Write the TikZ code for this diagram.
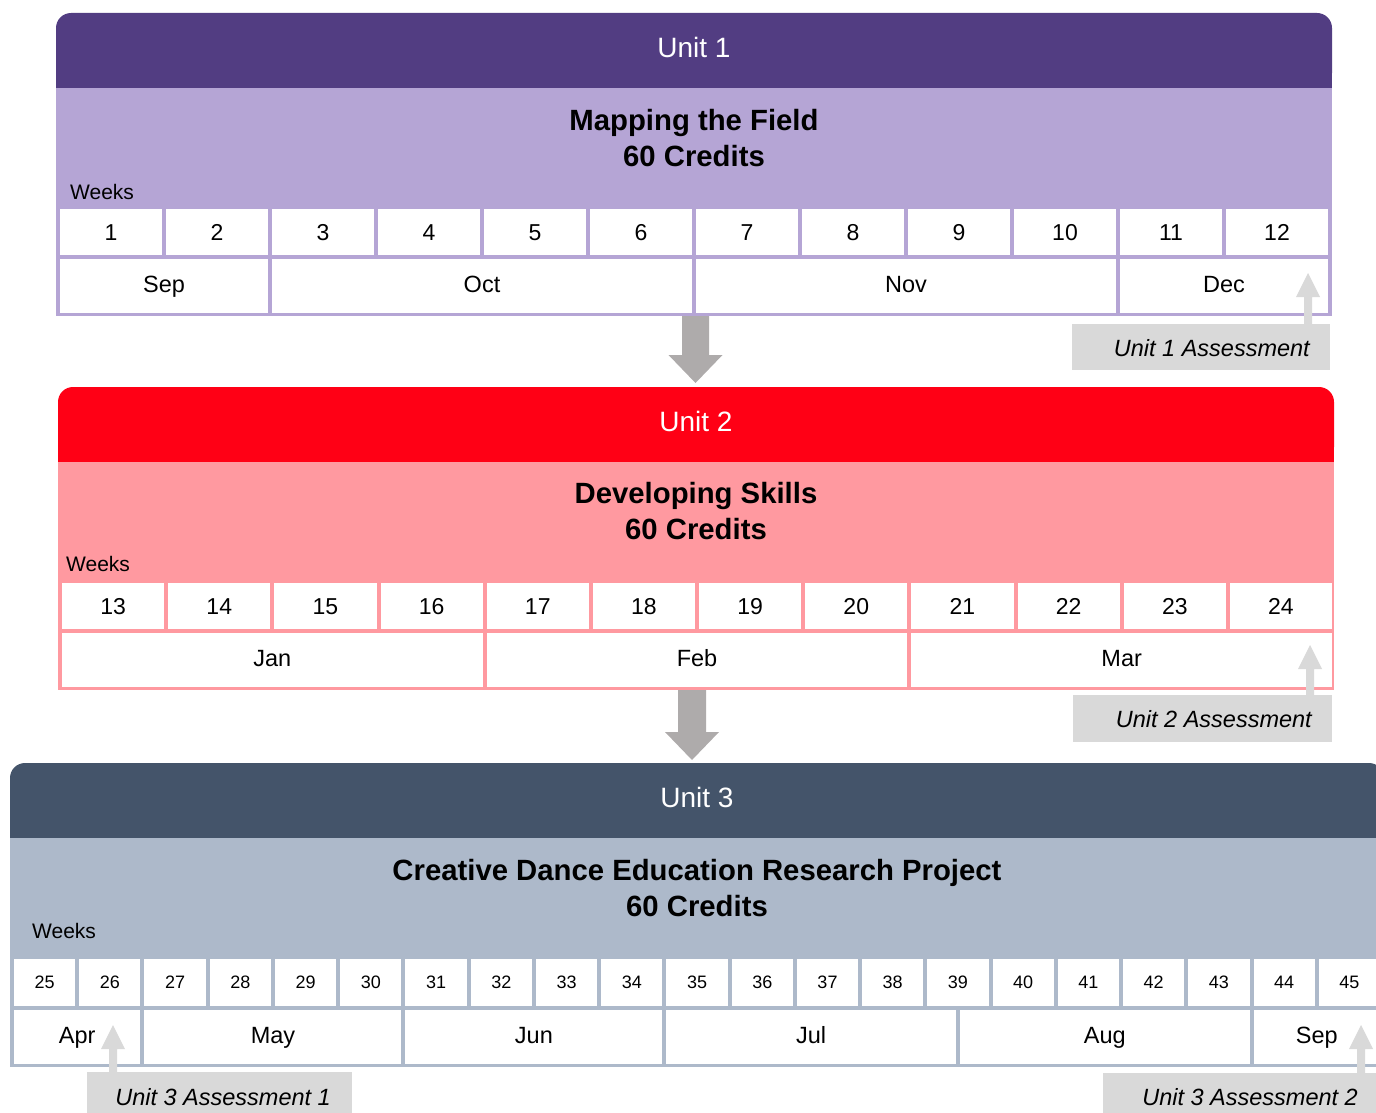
\documentclass[tikz,border=0pt]{standalone}
\usepackage{fontspec}
\setmainfont{Liberation Sans}
\usetikzlibrary{calc}
\definecolor{uadark}{HTML}{523D82}
\definecolor{ualight}{HTML}{B5A5D5}
\definecolor{ubdark}{HTML}{FF0015}
\definecolor{ublight}{HTML}{FF99A0}
\definecolor{ucdark}{HTML}{44546A}
\definecolor{uclight}{HTML}{ADB9CA}
\definecolor{assess}{HTML}{D9D9D9}
\definecolor{flowgray}{HTML}{AEABAB}
\newcommand\mkbox[7]{%
  \pgfmathsetmacro\mkbw{(#5)-(#3)}%
  \pgfmathsetmacro\mkbh{(#6)-(#4)}%
  \node[#1, minimum width=\mkbw pt, minimum height=\mkbh pt, anchor=north west] (#2) at (#3,#4) {#7};%
}
\newcommand\fatarrow[6]{%
  \fill[#1] ($(#2)+(-#4,0)$) -- ($(#3)+(-#4,#6)$) -- ($(#3)+(-#5,#6)$) -- (#3)
    -- ($(#3)+(#5,#6)$) -- ($(#3)+(#4,#6)$) -- ($(#2)+(#4,0)$) -- cycle;%
}
\begin{document}
\begin{tikzpicture}[x=1pt,y=-1pt,
  box/.style={rectangle, inner sep=0pt, outer sep=0pt, draw=none},
  cell/.style={box, fill=white, text depth=0pt},
  wkA/.style={cell, font=\fontsize{23}{27}\selectfont, text height=16.5pt},
  wkB/.style={cell, font=\fontsize{18}{22}\selectfont, text height=12.9pt},
  mon/.style={cell, font=\fontsize{23.5}{28}\selectfont, text height=16.8pt, text depth=3.5pt},
  headbox/.style={box, text=white, font=\fontsize{28}{32}\selectfont, text height=20pt, text depth=6pt, rounded corners=15pt},
  ttl/.style={font=\bfseries\fontsize{29.3}{36}\selectfont, align=center, inner sep=0pt},
  wklabel/.style={font=\fontsize{21}{25}\selectfont, inner sep=0pt, anchor=west, text height=15pt, text depth=0pt},
  abox/.style={box, fill=assess},
  atext/.style={font=\itshape\fontsize{23.5}{28}\selectfont, inner sep=0pt, anchor=east, text height=16.8pt, text depth=0pt},
  uparrow/.style={fill=assess},
  downarrow/.style={fill=flowgray}]
\useasboundingbox (0,0) rectangle (1376,1113);
\clip (0,0) rectangle (1376,1113);

% ---------------- Unit 1 ----------------
\mkbox{headbox, fill=uadark}{u1head}{56}{13}{1332}{88}{Unit 1}
\fill[uadark] ([yshift=18pt]u1head.south west) rectangle (u1head.south east);
\mkbox{box, fill=ualight}{u1body}{56}{88}{1332}{316}{}
\node[ttl] (u1title) at (694,138) {Mapping the Field\\60 Credits};
\node[wklabel] (u1wl) at (70,192) {Weeks};
\foreach \i [count=\k] in {0,...,11} {
  \pgfmathsetmacro\xa{58+106*\i+2}
  \pgfmathsetmacro\xb{58+106*(\i+1)-2}
  \mkbox{wkA}{u1w\k}{\xa}{209}{\xb}{255}{\k}
}
\foreach \a/\b/\m [count=\k] in {0/2/Sep,2/6/Oct,6/10/Nov,10/12/Dec} {
  \pgfmathsetmacro\xa{58+106*\a+2}
  \pgfmathsetmacro\xb{58+106*\b-2}
  \mkbox{mon}{u1m\k}{\xa}{259}{\xb}{313}{\m}
}
\mkbox{abox}{a1}{1072}{324}{1330}{370}{}
\node[atext] (a1t) at ([xshift=-20pt,yshift=-1pt]a1.east) {Unit 1 Assessment};
\coordinate (t1) at (1308,273);
\coordinate (t1s) at (a1.north -| t1);
\fatarrow{uparrow}{t1s}{t1}{4}{12}{24}

% ---------------- Unit 2 ----------------
\mkbox{headbox, fill=ubdark}{u2head}{58}{387}{1334}{462}{Unit 2}
\fill[ubdark] ([yshift=18pt]u2head.south west) rectangle (u2head.south east);
\mkbox{box, fill=ublight}{u2body}{58}{462}{1334}{690}{}
\node[ttl] (u2title) at (696,511) {Developing Skills\\60 Credits};
\node[wklabel] (u2wl) at (66,564) {Weeks};
\foreach \i [count=\k] in {0,...,11} {
  \pgfmathsetmacro\xa{60+106.17*\i+2}
  \pgfmathsetmacro\xb{60+106.17*(\i+1)-2}
  \pgfmathtruncatemacro\wn{\k+12}
  \mkbox{wkA}{u2w\k}{\xa}{583}{\xb}{629}{\wn}
}
\foreach \a/\b/\m [count=\k] in {0/4/Jan,4/8/Feb,8/12/Mar} {
  \pgfmathsetmacro\xa{60+106.17*\a+2}
  \pgfmathsetmacro\xb{60+106.17*\b-2}
  \mkbox{mon}{u2m\k}{\xa}{633}{\xb}{687}{\m}
}
\mkbox{abox}{a2}{1073}{695}{1332}{742}{}
\node[atext] (a2t) at ([xshift=-20pt,yshift=-1pt]a2.east) {Unit 2 Assessment};
\coordinate (t2) at (1310,645);
\coordinate (t2s) at (a2.north -| t2);
\fatarrow{uparrow}{t2s}{t2}{4}{12}{24}

% ---------------- Unit 3 ----------------
\mkbox{headbox, fill=ucdark}{u3head}{10}{763}{1384}{838}{Unit 3}
\fill[ucdark] ([yshift=18pt]u3head.south west) rectangle (u3head.south east);
\mkbox{box, fill=uclight}{u3body}{10}{838}{1384}{1067}{}
\node[ttl] (u3title) at (697,888) {Creative Dance Education Research Project\\60 Credits};
\node[wklabel] (u3wl) at (32,931) {Weeks};
\foreach \i [count=\k] in {0,...,20} {
  \pgfmathsetmacro\xa{12+65.24*\i+2}
  \pgfmathsetmacro\xb{12+65.24*(\i+1)-2}
  \pgfmathtruncatemacro\wn{\k+24}
  \mkbox{wkB}{u3w\k}{\xa}{959}{\xb}{1006}{\wn}
}
\foreach \a/\b/\m [count=\k] in {0/2/Apr,2/6/May,6/10/Jun,10/14.5/Jul,14.5/19/Aug,19/21/Sep} {
  \pgfmathsetmacro\xa{12+65.24*\a+2}
  \pgfmathsetmacro\xb{12+65.24*\b-2}
  \mkbox{mon}{u3m\k}{\xa}{1010}{\xb}{1064}{\m}
}
\mkbox{abox}{a3}{87}{1072}{352}{1122}{}
\node[atext] (a3t) at ([xshift=-21pt,yshift=0pt]a3.east) {Unit 3 Assessment 1};
\coordinate (t3) at (113,1025);
\coordinate (t3s) at (a3.north -| t3);
\fatarrow{uparrow}{t3s}{t3}{4}{12}{24}
\mkbox{abox}{a4}{1103}{1073}{1378}{1122}{}
\node[atext] (a4t) at ([xshift=-20pt,yshift=0pt]a4.east) {Unit 3 Assessment 2};
\coordinate (t4) at (1361,1025);
\coordinate (t4s) at (a4.north -| t4);
\fatarrow{uparrow}{t4s}{t4}{4}{12}{24}

% ---------------- flow arrows ----------------
\coordinate (d1) at (695.5,383);
\coordinate (d1s) at (u1body.south -| d1);
\fatarrow{downarrow}{d1s}{d1}{13.5}{27}{-28}
\coordinate (d2) at (692,760);
\coordinate (d2s) at (u2body.south -| d2);
\fatarrow{downarrow}{d2s}{d2}{14}{27}{-28}
\end{tikzpicture}
\end{document}
